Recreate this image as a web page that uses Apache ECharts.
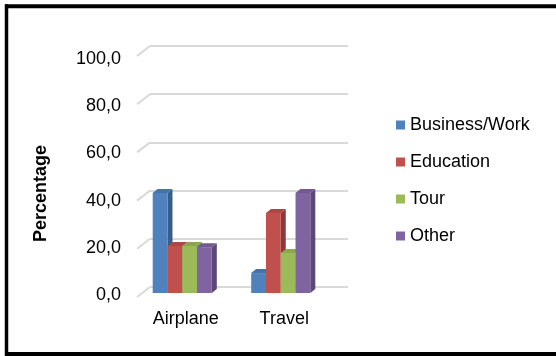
<!DOCTYPE html>
<html>
<head>
<meta charset="utf-8">
<script src="https://cdn.jsdelivr.net/npm/echarts@6/dist/echarts.min.js"></script>
<style>html,body{margin:0;padding:0;background:#fff;}#c{width:556px;height:356px;}</style>
</head>
<body>
<div id="c"></div>
<script>
var categories = ['Airplane', 'Travel'];
var seriesNames = ['Business/Work', 'Education', 'Tour', 'Other'];
var businessWork = [41.7, 8.3];
var education = [19.6, 33.3];
var tour = [19.6, 16.7];
var other = [19.1, 41.7];
var tickValues = [0, 20, 40, 60, 80, 100];
var yAxisTitle = 'Percentage';

var seriesValues = [businessWork, education, tour, other];
var frontColors = ['#4F81BD', '#C0504D', '#9BBB59', '#8064A2'];
var sideColors = ['#385D8A', '#8C3836', '#71893F', '#5C4776'];
var topColors = ['#4672A8', '#AB4744', '#8AA74F', '#725990'];
var FONT = 'Liberation Sans, Arial, sans-serif';
var DX = 5, DY = -4;

function makeRender(si) {
  return function (params, api) {
    var cat = api.value(0), v = api.value(1);
    var base = api.coord([cat, 0]);
    var top = api.coord([cat, v]);
    var band = api.size([1, 0])[0];
    var bw = band * 0.15;
    var x = base[0] - 2 * bw + si * bw;
    var y0 = base[1], y1 = top[1];
    return {
      type: 'group',
      children: [
        {type: 'polygon', shape: {points: [[x + bw, y1], [x + bw + DX, y1 + DY], [x + bw + DX, y0 + DY], [x + bw, y0]]}, style: {fill: sideColors[si]}},
        {type: 'polygon', shape: {points: [[x, y1], [x + DX, y1 + DY], [x + bw + DX, y1 + DY], [x + bw, y1]]}, style: {fill: topColors[si]}},
        {type: 'rect', shape: {x: x, y: y1, width: bw, height: y0 - y1}, style: {fill: frontColors[si]}}
      ]
    };
  };
}

var series = [];
series.push({
  type: 'custom', xAxisIndex: 0, yAxisIndex: 0, silent: true,
  data: tickValues.map(function (t) { return [0, t]; }),
  renderItem: function (params, api) {
    var p = api.coord([0, api.value(1)]);
    return {type: 'line', shape: {x1: p[0] - 13, y1: p[1] + 10, x2: p[0], y2: p[1]}, style: {stroke: '#d9d9d9', lineWidth: 2}};
  }
});
for (var i = 0; i < seriesNames.length; i++) {
  series.push({
    type: 'custom', name: seriesNames[i], xAxisIndex: 1, yAxisIndex: 1,
    itemStyle: {color: frontColors[i]},
    data: seriesValues[i].map(function (v, k) { return [k, v]; }),
    renderItem: makeRender(i)
  });
}

var chart = echarts.init(document.getElementById('c'), null, {renderer: 'canvas'});
chart.setOption({
  animation: false,
  backgroundColor: '#fff',
  grid: [
    {left: 150, top: 46, width: 198, height: 241},
    {left: 133, top: 53, width: 197, height: 240},
    {left: 136, top: 59, width: 198, height: 236}
  ],
  xAxis: [
    {gridIndex: 0, type: 'value', min: 0, max: 1, show: false},
    {gridIndex: 1, type: 'category', data: categories,
     axisLine: {show: false}, axisTick: {show: false},
     axisLabel: {fontSize: 18, fontFamily: FONT, color: '#000', margin: 17, padding: [0, 0, 0, 7]}},
    {gridIndex: 2, type: 'value', min: 0, max: 1, show: false}
  ],
  yAxis: [
    {gridIndex: 0, type: 'value', min: 0, max: 100, interval: 20,
     axisLine: {show: false}, axisTick: {show: false}, axisLabel: {show: false},
     splitLine: {lineStyle: {color: '#d9d9d9', width: 2}}},
    {gridIndex: 1, type: 'value', min: 0, max: 100, interval: 20, show: false},
    {gridIndex: 2, type: 'value', min: 0, max: 100, interval: 20,
     axisLine: {show: false}, axisTick: {show: false}, splitLine: {show: false},
     axisLabel: {fontSize: 18, fontFamily: FONT, color: '#000', margin: 15,
       formatter: function (v) { return v.toFixed(1).replace('.', ','); }}}
  ],
  legend: {
    orient: 'vertical', left: 391, top: 110, itemWidth: 9, itemHeight: 9, itemGap: 17,
    icon: 'rect', data: seriesNames,
    textStyle: {fontSize: 18, fontFamily: FONT, color: '#000', lineHeight: 20}
  },
  graphic: [
    {type: 'text', left: 32, top: 145, rotation: Math.PI / 2,
     style: {text: yAxisTitle, font: 'bold 18px ' + FONT, fill: '#000'}},
    {type: 'line', shape: {x1: 5, y1: 6.3, x2: 556, y2: 6.3}, style: {stroke: '#000', lineWidth: 4}},
    {type: 'line', shape: {x1: 6.5, y1: 4.3, x2: 6.5, y2: 356}, style: {stroke: '#000', lineWidth: 3.5}},
    {type: 'line', shape: {x1: 5, y1: 354, x2: 556, y2: 354}, style: {stroke: '#000', lineWidth: 4}}
  ],
  series: series
});
</script>
</body>
</html>
